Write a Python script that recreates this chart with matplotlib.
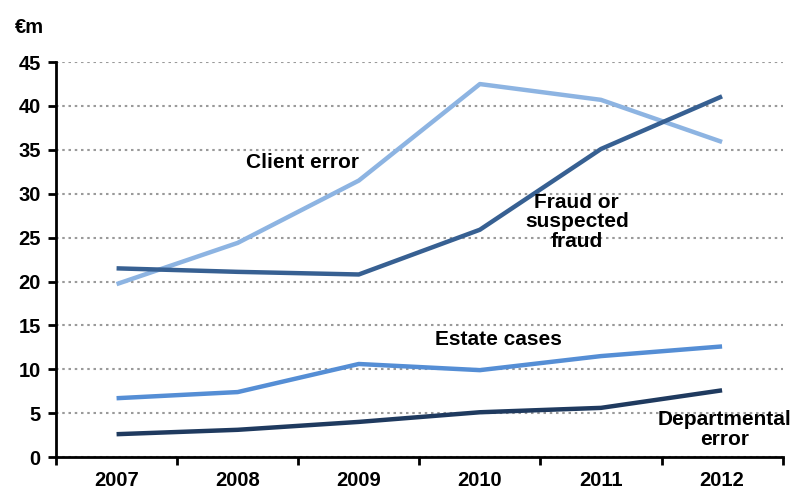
import matplotlib
matplotlib.use("Agg")
from matplotlib import pyplot as plt
import numpy as np

plt.rcParams['font.family'] = ['Liberation Sans', 'DejaVu Sans']
plt.rcParams['font.weight'] = 'bold'

years = ['2007', '2008', '2009', '2010', '2011', '2012']
client_error = [19.7, 24.4, 31.5, 42.5, 40.7, 35.9]
fraud = [21.5, 21.1, 20.8, 25.9, 35.1, 41.1]
estate_cases = [6.7, 7.4, 10.6, 9.9, 11.5, 12.6]
departmental_error = [2.6, 3.1, 4.0, 5.1, 5.6, 7.6]

fig = plt.figure(figsize=(8.06, 4.93), dpi=100)
ax = fig.add_axes([0.0695, 0.073, 0.9015, 0.801])

x = np.arange(len(years))
ax.plot(x, client_error, color='#8db4e2', lw=3.2, solid_capstyle='butt', zorder=3)
ax.plot(x, fraud, color='#376092', lw=3.2, solid_capstyle='butt', zorder=3)
ax.plot(x, estate_cases, color='#558ed5', lw=3.2, solid_capstyle='butt', zorder=3)
ax.plot(x, departmental_error, color='#1f3a5f', lw=3.2, solid_capstyle='butt', zorder=3)

ax.set_xlim(-0.5, len(years) - 0.5)
ax.set_ylim(0, 45)
ax.set_yticks(np.arange(0, 50, 5))
ax.set_xticks(x)
ax.set_xticklabels(years)
ax.set_xticks(np.arange(-0.5, len(years), 1), minor=True)
ax.tick_params(axis='x', which='major', length=0, pad=10, labelsize=14.5)
ax.tick_params(axis='x', which='minor', length=6, width=2, direction='out')
ax.tick_params(axis='y', length=6, width=2, direction='out', pad=5, labelsize=14.5)
for lab in ax.get_xticklabels() + ax.get_yticklabels():
    lab.set_fontweight('bold')

ax.yaxis.grid(True, color='#9a9a9a', linestyle=(0, (1.2, 1.8)), lw=1.5, zorder=1)
ax.spines['top'].set_visible(False)
ax.spines['right'].set_visible(False)
ax.spines['left'].set_linewidth(2)
ax.spines['bottom'].set_linewidth(2)

fig.text(0.018, 0.945, '€m', fontsize=14.5, fontweight='bold', va='center', ha='left')

ax.text(1.07, 33.6, 'Client error', fontsize=15, fontweight='bold', ha='left', va='center')
ax.text(3.8, 26.8, 'Fraud or\nsuspected\nfraud', fontsize=15, fontweight='bold',
        ha='center', va='center', linespacing=1.05)
ax.text(3.15, 13.4, 'Estate cases', fontsize=15, fontweight='bold', ha='center', va='center')
ax.text(5.02, 3.1, 'Departmental\nerror', fontsize=15, fontweight='bold',
        ha='center', va='center', linespacing=1.05)

fig.savefig('out.png', dpi=100)
